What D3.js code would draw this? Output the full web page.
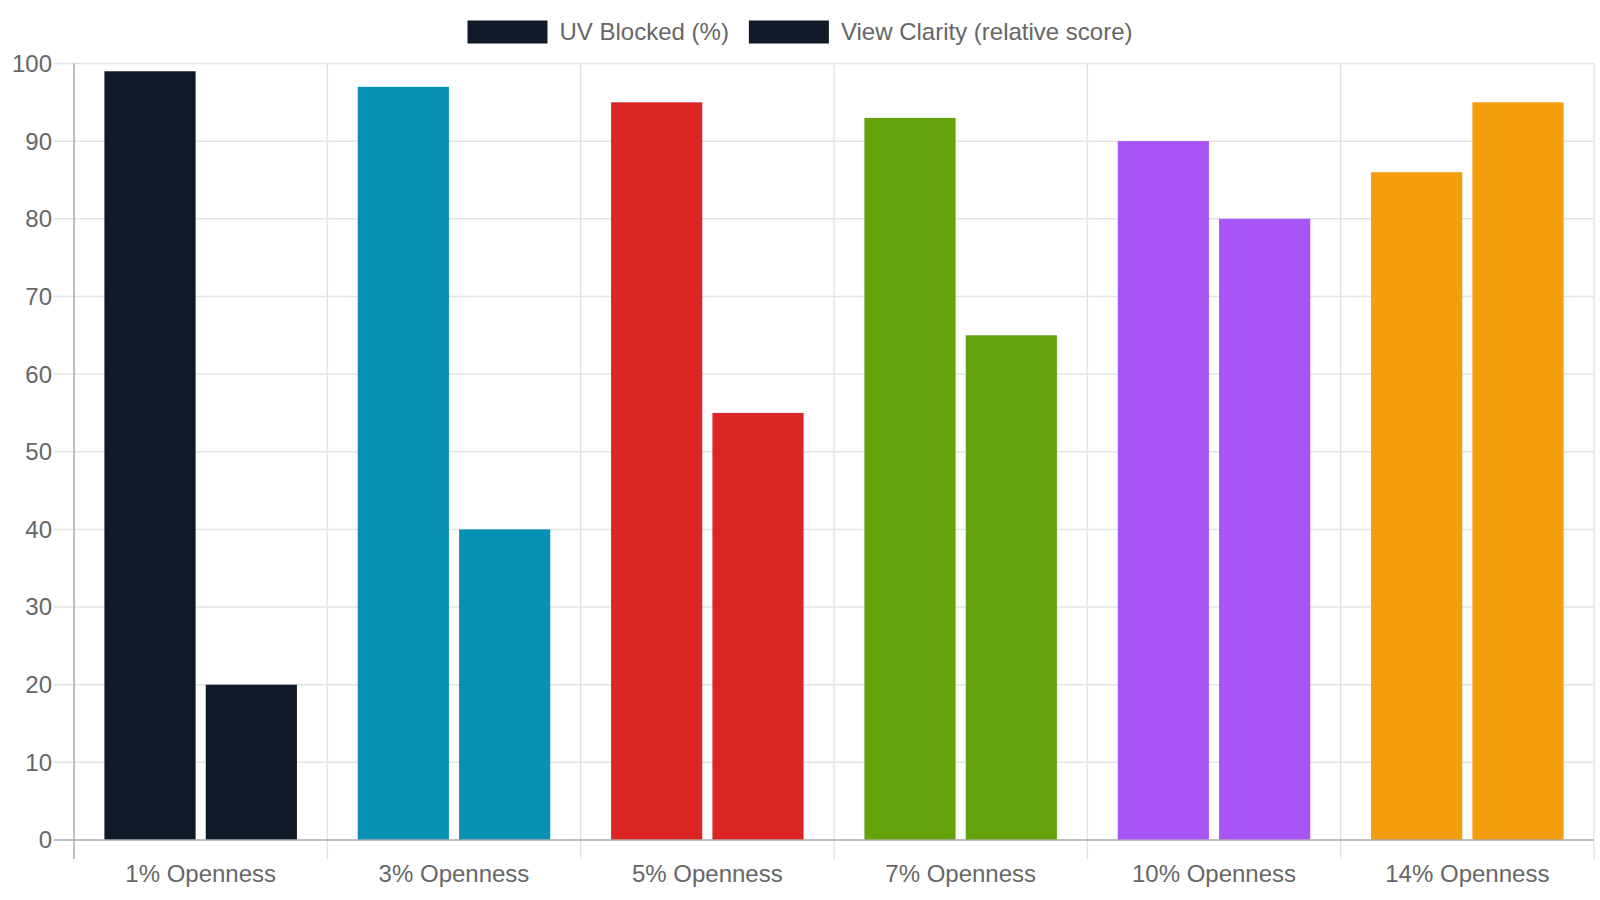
<!DOCTYPE html>
<html>
<head>
<meta charset="utf-8">
<script src="https://cdn.jsdelivr.net/npm/d3@7"></script>
<style>
  body { margin: 0; background: #fff; }
  svg { display: block; font-family: "Liberation Sans", Arial, sans-serif; }
</style>
</head>
<body>
<svg width="1600" height="900"></svg>
<script>
const categories = ['1% Openness', '3% Openness', '5% Openness', '7% Openness', '10% Openness', '14% Openness'];
const seriesNames = ['UV Blocked (%)', 'View Clarity (relative score)'];
const uvBlocked = [99, 97, 95, 93, 90, 86];
const viewClarity = [20, 40, 55, 65, 80, 95];
const barColors = ['#111827', '#0891b2', '#dc2626', '#65a30d', '#a855f7', '#f39e0c'];
const yTicks = [0, 10, 20, 30, 40, 50, 60, 70, 80, 90, 100];

const svg = d3.select('svg');
const width = +svg.attr('width');

const plotLeft = 74, plotRight = 1594, plotTop = 63.5, plotBottom = 840;

const x = d3.scaleBand()
    .domain(categories)
    .range([plotLeft, plotRight])
    .paddingInner(0)
    .paddingOuter(0);

const inner = d3.scaleBand()
    .domain([0, 1])
    .range([x.bandwidth() * 0.1, x.bandwidth() * 0.9])
    .paddingInner(0.1)
    .paddingOuter(0.05);

const y = d3.scaleLinear().domain([0, 100]).range([plotBottom, plotTop]);

const gridColor = '#e4e4e4';
const axisColor = '#aaaaaa';
const textColor = '#666666';

// horizontal grid + y ticks
svg.append('g').selectAll('line')
    .data(yTicks.filter(d => d !== 0))
    .join('line')
        .attr('x1', plotLeft - 20).attr('x2', plotRight)
        .attr('y1', d => y(d)).attr('y2', d => y(d))
        .attr('stroke', gridColor).attr('stroke-width', 1.5);

// vertical grid at category boundaries
const bounds = categories.map(c => x(c)).concat([plotRight]);
svg.append('g').selectAll('line')
    .data(bounds.slice(1))
    .join('line')
        .attr('x1', d => d).attr('x2', d => d)
        .attr('y1', plotTop).attr('y2', plotBottom + 19)
        .attr('stroke', gridColor).attr('stroke-width', 1.5);

svg.append('g').selectAll('text')
    .data(yTicks)
    .join('text')
        .attr('x', plotLeft - 22)
        .attr('y', d => y(d))
        .attr('dy', '0.35em')
        .attr('text-anchor', 'end')
        .attr('fill', textColor)
        .attr('font-size', 24)
        .text(d => d);

// bars
const rows = categories.map((c, i) => ({ cat: c, color: barColors[i], vals: [uvBlocked[i], viewClarity[i]] }));
const groups = svg.append('g').selectAll('g')
    .data(rows)
    .join('g')
        .attr('transform', d => `translate(${x(d.cat)},0)`);

groups.selectAll('rect')
    .data(d => d.vals.map((v, k) => ({ v, k, color: d.color })))
    .join('rect')
        .attr('x', d => inner(d.k))
        .attr('width', inner.bandwidth())
        .attr('y', d => y(d.v))
        .attr('height', d => y(0) - y(d.v))
        .attr('fill', d => d.color);

// axes lines
svg.append('line')
    .attr('x1', plotLeft).attr('x2', plotLeft)
    .attr('y1', plotTop).attr('y2', plotBottom + 19)
    .attr('stroke', axisColor).attr('stroke-width', 1.5);
svg.append('line')
    .attr('x1', plotLeft - 20).attr('x2', plotRight)
    .attr('y1', plotBottom).attr('y2', plotBottom)
    .attr('stroke', axisColor).attr('stroke-width', 1.5);

// x labels
svg.append('g').selectAll('text')
    .data(categories)
    .join('text')
        .attr('x', d => x(d) + x.bandwidth() / 2)
        .attr('y', 874)
        .attr('dy', '0.35em')
        .attr('text-anchor', 'middle')
        .attr('fill', textColor)
        .attr('font-size', 24)
        .text(d => d);

// legend
const legend = svg.append('g');
const items = legend.selectAll('g')
    .data(seriesNames)
    .join('g');
items.append('rect')
    .attr('width', 80).attr('height', 23)
    .attr('fill', barColors[0]);
items.append('text')
    .attr('x', 92).attr('y', 11.5)
    .attr('dy', '0.35em')
    .attr('fill', textColor)
    .attr('font-size', 24)
    .text(d => d);

const widths = [];
items.each(function () {
    widths.push(80 + 12 + this.querySelector('text').getComputedTextLength());
});
const total = d3.sum(widths) + 20 * (widths.length - 1);
let cx = width / 2 - total / 2;
items.attr('transform', (d, i) => {
    const t = `translate(${cx},20.5)`;
    cx += widths[i] + 20;
    return t;
});
</script>
</body>
</html>
